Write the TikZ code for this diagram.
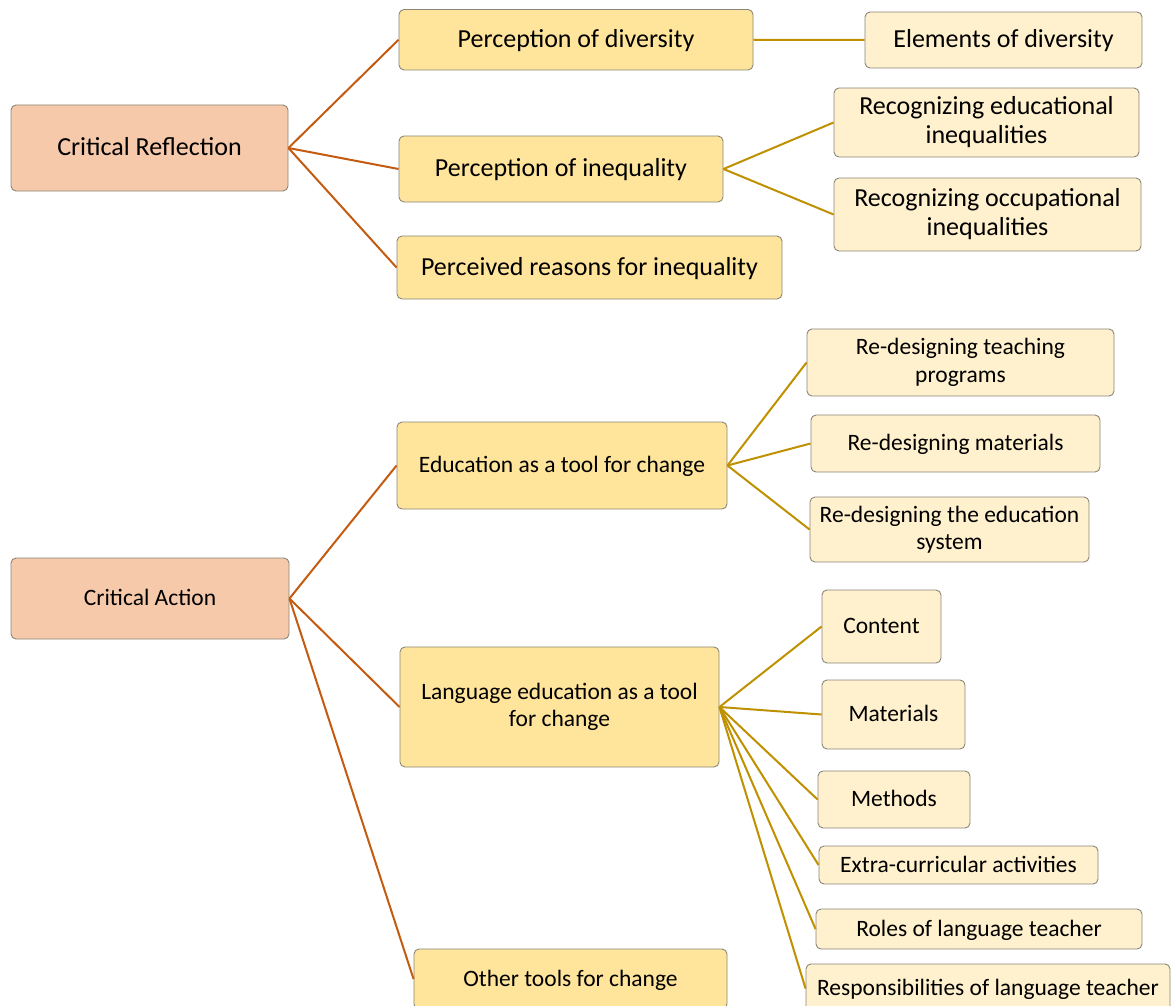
\documentclass[tikz,border=0pt]{standalone}
\usepackage{fontspec}
\setmainfont{Carlito}
\definecolor{rootfill}{HTML}{F6C9AB}
\definecolor{midfill}{HTML}{FFE59B}
\definecolor{leaffill}{HTML}{FFF1CD}
\definecolor{boxline}{HTML}{8A8578}
\definecolor{rootlink}{HTML}{C55A11}
\definecolor{leaflink}{HTML}{BF9000}
\tikzset{
  box/.style={draw=boxline, line width=0.9pt, rounded corners=5pt, inner sep=0pt,
    align=center, text=black},
  root/.style={box, fill=rootfill},
  mid/.style={box, fill=midfill},
  leaf/.style={box, fill=leaffill},
  big/.style={font=\fontsize{26}{29}\selectfont},
  small/.style={font=\fontsize{23.5}{27.5}\selectfont},
  onebig/.style={big, text height=22pt, text depth=6.5pt},
  onesmall/.style={small, text height=20pt, text depth=5.9pt},
  sz/.style 2 args={minimum width=#1, minimum height=#2},
  rlink/.style={draw=rootlink, line width=2pt},
  llink/.style={draw=leaflink, line width=2pt}
}
\begin{document}
\begin{tikzpicture}[x=1pt, y=-1pt]
\useasboundingbox (0,0) rectangle (1173,1006);

% Critical reflection branch
\node[root, onebig, sz={277}{86}] (cr) at (149.5,148) {Critical Reflection};
\node[mid, onebig, sz={354}{60.5}] (pdiv) at (576,39.75) {Perception of diversity};
\node[leaf, onebig, sz={277}{56}] (elem) at (1003.5,40) {Elements of diversity};
\node[mid, onebig, sz={324}{66}] (pineq) at (561,169) {Perception of inequality};
\node[leaf, big, sz={305}{69}] (redu) at (986.5,122.5) {Recognizing educational\\inequalities};
\node[leaf, big, sz={307}{73}] (rocc) at (987.5,214.5) {Recognizing occupational\\inequalities};
\node[mid, onebig, sz={385}{63}] (preas) at (589.5,267.5) {Perceived reasons for inequality};

% Critical action branch
\node[root, onesmall, sz={278}{81}] (ca) at (150,598.5) {Critical Action};
\node[mid, onesmall, sz={330}{87}] (edu) at (562,465.5) {Education as a tool for change};
\node[leaf, small, sz={307}{67}] (rtp) at (960.5,362.5) {Re-designing teaching\\programs};
\node[leaf, onesmall, sz={289}{57}] (rmat) at (955.5,443.5) {Re-designing materials};
\node[leaf, small, sz={279}{65}] (rsys) at (949.5,529.5) {Re-designing the education\\system};
\node[mid, small, sz={319}{120}] (lang) at (559.5,707) {Language education as a tool\\for change};
\node[leaf, onesmall, sz={119}{73}] (cont) at (881.5,626.5) {Content};
\node[leaf, onesmall, sz={143}{69}] (mats) at (893.5,714.5) {Materials};
\node[leaf, onesmall, sz={152}{57}] (meth) at (894,799.5) {Methods};
\node[leaf, onesmall, sz={279}{38}] (extra) at (958.5,865) {Extra-curricular activities};
\node[leaf, onesmall, sz={326}{40}] (roles) at (979,929) {Roles of language teacher};
\node[leaf, onesmall, sz={364}{49}] (resp) at (988,988.5) {Responsibilities of language teacher};
\node[mid, onesmall, sz={313}{60}] (other) at (570.5,979) {Other tools for change};

% Connectors: first level in orange, second level in gold
\draw[rlink] (cr.east) -- (pdiv.west);
\draw[rlink] (cr.east) -- (pineq.west);
\draw[rlink] (cr.east) -- (preas.west);
\draw[llink] (pdiv.east) -- (elem.west);
\draw[llink] (pineq.east) -- (redu.west);
\draw[llink] (pineq.east) -- (rocc.west);
\draw[rlink] (ca.east) -- (edu.west);
\draw[rlink] (ca.east) -- (lang.west);
\draw[rlink] (ca.east) -- (other.west);
\draw[llink] (edu.east) -- (rtp.west);
\draw[llink] (edu.east) -- (rmat.west);
\draw[llink] (edu.east) -- (rsys.west);
\foreach \t in {cont,mats,meth,extra,roles,resp}
  \draw[llink] (lang.east) -- (\t.west);
\end{tikzpicture}
\end{document}
